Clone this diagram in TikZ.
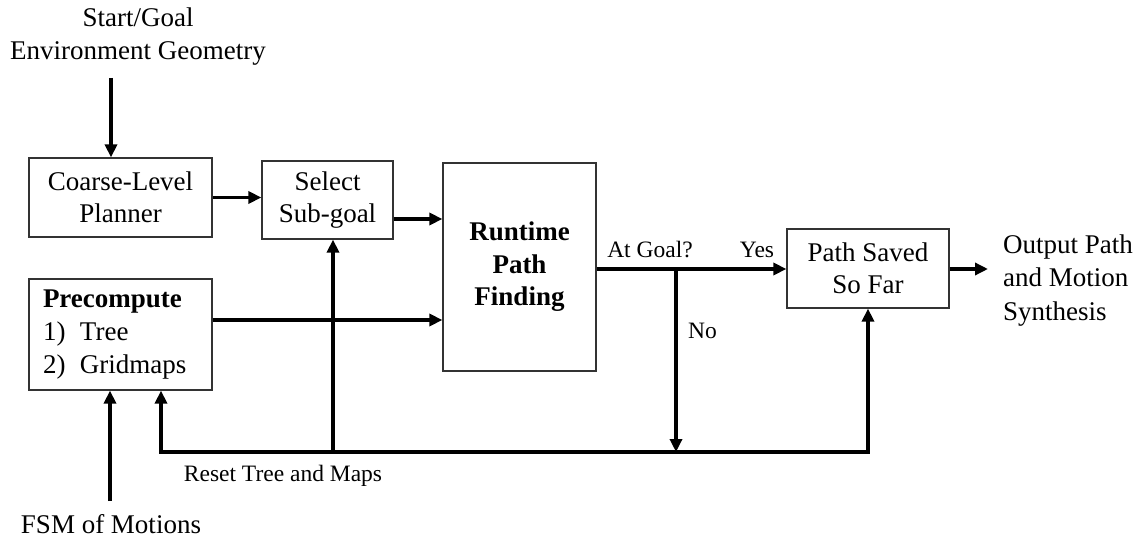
\documentclass[tikz,border=0pt]{standalone}
\usepackage{fontspec}
\setmainfont{Liberation Serif}
\usetikzlibrary{arrows.meta}

\begin{document}
\begin{tikzpicture}[x=1pt,y=-1pt,
  blk/.style={draw=black!80, line width=1.2pt, inner sep=0pt, align=center,
    font=\fontsize{27}{32.5}\selectfont},
  flow/.style={line width=3.6pt, -{Triangle[length=13pt,width=12pt]}},
  lbl/.style={inner sep=0pt, font=\fontsize{23.5}{28}\selectfont},
  big/.style={inner sep=0pt, font=\fontsize{27}{33.5}\selectfont}
]
\useasboundingbox (0,0) rectangle (1135,540);

% blocks
\node[blk, minimum width=183pt, minimum height=79pt] (coarse) at (120.5,197.5)
  {Coarse-Level\\Planner};
\node[blk, minimum width=131pt, minimum height=78pt] (select) at (327.5,200)
  {Select\\Sub-goal};
\node[blk, minimum width=153pt, minimum height=208pt] (runtime) at (519.5,267)
  {\bfseries Runtime\\\bfseries Path\\\bfseries Finding};
\node[blk, minimum width=162pt, minimum height=79pt] (saved) at (868,268.5)
  {Path Saved\\So Far};
\node[blk, minimum width=183pt, minimum height=111pt, text width=155pt,
  inner xsep=14pt, align=left, font=\fontsize{27}{33}\selectfont] (precomp) at (120.5,334.5)
  {\textbf{Precompute}\\\makebox[37pt][l]{1)}Tree\\\makebox[37pt][l]{2)}Gridmaps};

% external texts
\node[big, align=center, anchor=north] (env) at (138,7.5)
  {Start/Goal\\Environment Geometry};
\node[big, align=left, anchor=north west] (out) at (1003,234.5)
  {Output Path\\and Motion\\Synthesis};
\node[big, anchor=base] (fsm) at (111,533) {FSM of Motions};

% edge labels
\node[lbl, anchor=base] (atgoal) at (650,258) {At Goal?};
\node[lbl, anchor=base] (yes) at (757,258) {Yes};
\node[lbl, anchor=base west] (no) at (688,338) {No};
\node[lbl, anchor=base] (reset) at (283,481) {Reset Tree and Maps};

% helper points
\coordinate (envin) at (111,78);
\coordinate (fsmout) at (110,501);
\coordinate (ysel) at (0,219);
\coordinate (ypre) at (0,320);
\coordinate (ysave) at (0,269);
\coordinate (junc) at (676,269);
\coordinate (nobot) at (676,452);
\coordinate (resetL) at (161,452);
\coordinate (resetM) at (333,452);
\coordinate (outin) at (988,269);

% connectors
\draw[flow] (envin) -- (envin |- coarse.north);
\draw[flow] (coarse.east) -- (coarse.east -| select.west);
\draw[flow] (select.east |- ysel) -- (runtime.west |- ysel);
\draw[flow] (precomp.east |- ypre) -- (runtime.west |- ypre);
\draw[flow] (runtime.east |- ysave) -- (saved.west |- ysave);
\draw[flow] (junc) -- (nobot);
\draw[flow] (saved.east |- ysave) -- (outin);
\draw[flow] (fsmout) -- (fsmout |- precomp.south);
\draw[flow] (nobot) -| (saved.south);
\draw[flow] (nobot) -- (resetL) -- (resetL |- precomp.south);
\draw[flow] (resetM) -- (resetM |- select.south);
\end{tikzpicture}
\end{document}
